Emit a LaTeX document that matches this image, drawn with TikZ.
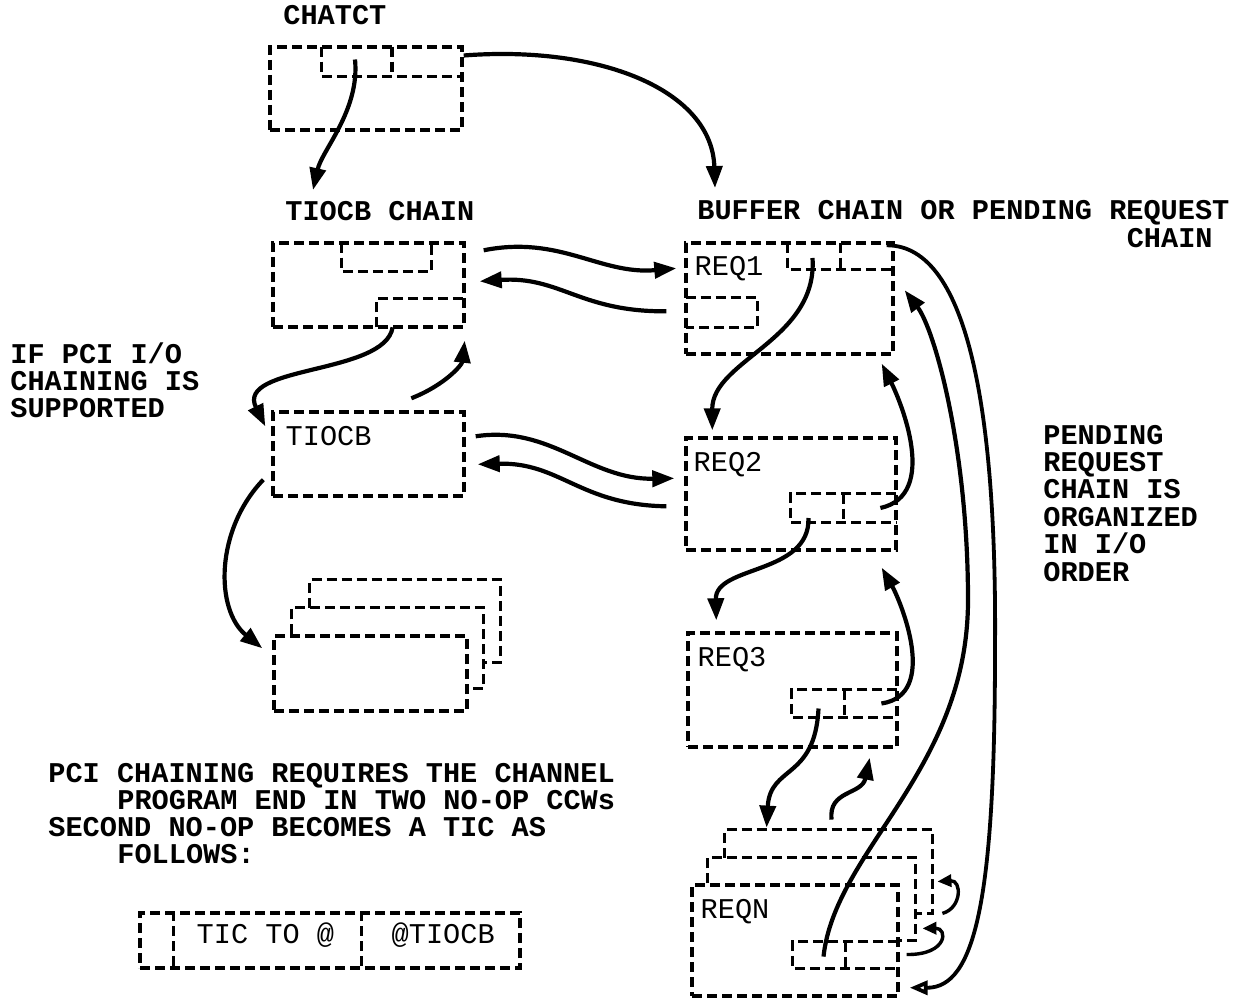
\documentclass[tikz,border=0pt]{standalone}
\usepackage{fontspec}
\setmonofont{Liberation Mono}
\usetikzlibrary{arrows.meta, fit}

\newcommand{\ibm}{\ttfamily\fontsize{14.3}{13.65}\selectfont}

\begin{document}
\begin{tikzpicture}[
    x=0.5pt, y=-0.5pt,
    every node/.style={font=\ibm, inner sep=0pt},
    heading/.style={font=\ibm\bfseries, anchor=base west},
    boxlbl/.style={anchor=base west},
    dbox/.style={draw, line width=1.7pt, dash pattern=on 5pt off 2.5pt},
    dline/.style={line width=1.7pt, dash pattern=on 5pt off 2.5pt},
    link/.style={-{Triangle[length=11pt, width=8pt]}, line width=2.1pt},
    smalllink/.style={-{Triangle[length=7pt, width=6pt]}, line width=1.7pt},
    hollow/.style={-{Triangle[open, length=9pt, width=7pt]}, line width=1.9pt}
]
\useasboundingbox (0,0) rectangle (1242,1000);

% headings
\node[heading] (chatctlbl) at (283,25) {CHATCT};
\node[heading] (chainlbl) at (285,221) {TIOCB CHAIN};
\node[heading] (bufflbl) at (697,220) {BUFFER CHAIN OR PENDING REQUEST};
\node[heading, anchor=base east] (bufflbl2) at (1213,248) {CHAIN};
\foreach \txt [count=\i from 0] in {IF PCI I/O, CHAINING IS, SUPPORTED}
  \node[heading] (pci\i) at (10,363+27.4*\i) {\txt};
\foreach \txt [count=\i from 0] in {PENDING, REQUEST, CHAIN IS, ORGANIZED, IN I/O, ORDER}
  \node[heading] (order\i) at (1043,444+27.4*\i) {\txt};
\foreach \dx/\txt [count=\i from 0] in {0/PCI CHAINING REQUIRES THE CHANNEL, 69/PROGRAM END IN TWO NO-OP CCWs, 0/SECOND NO-OP BECOMES A TIC AS, 69/FOLLOWS:}
  \node[heading] (note\i) at (48+\dx,782+27.3*\i) {\txt};

% CHATCT
\node[dbox, fit={(270,47) (462,130)}] (chatct) {};
\node[fit={(322,47) (462,76)}] (chatctf) {};
\draw[dline] (chatctf.north west) -- (chatctf.south west) -- (chatctf.south east);
\draw[dline] (chatctf.north) -- (chatctf.south);

% TIOCB chain
\node[dbox, fit={(273,243) (464,327)}] (chain) {};
\node[fit={(342,243) (431,271)}] (chainf1) {};
\draw[dline] (chainf1.north west) -- (chainf1.south west) -- (chainf1.south east) -- (chainf1.north east);
\node[fit={(377,299) (464,327)}] (chainf2) {};
\draw[dline] (chainf2.south west) -- (chainf2.north west) -- (chainf2.north east);

\node[dbox, fit={(273,412) (464,496)}] (tiocb) {};
\node[boxlbl] (tiocblbl) at ([shift={(14,35)}]tiocb.north west) {TIOCB};

% stacked TIOCBs
\node[dbox, fit={(274,636) (467,711)}] (stackA) {};
\node[fit={(292,608) (483,688)}] (stackB) {};
\node[fit={(310,580) (500,662)}] (stackC) {};
\draw[dline] (stackB.south west |- stackA.north) -- (stackB.north west) -- (stackB.north east) -- (stackB.south east) -- (stackA.east |- stackB.south);
\draw[dline] (stackC.south west |- stackB.north) -- (stackC.north west) -- (stackC.north east) -- (stackC.south east) -- (stackB.east |- stackC.south);

% request blocks
\node[dbox, fit={(686,243) (893,354)}] (req1) {};
\node[boxlbl] (req1lbl) at ([shift={(10,34)}]req1.north west) {REQ1};
\node[fit={(788,243) (893,269)}] (req1f) {};
\draw[dline] (req1f.north west) -- (req1f.south west) -- (req1f.south east);
\draw[dline] (req1f.north) -- (req1f.south);
\node[fit={(686,298) (757,327)}] (req1g) {};
\draw[dline] (req1g.north west) -- (req1g.north east) -- (req1g.south east) -- (req1g.south west);

\node[dbox, fit={(686,438) (896,550)}] (req2) {};
\node[boxlbl] (req2lbl) at ([shift={(9,35)}]req2.north west) {REQ2};
\node[fit={(791,494) (896,522)}] (req2f) {};
\draw[dline] (req2f.north east) -- (req2f.north west) -- (req2f.south west) -- (req2f.south east);
\draw[dline] (req2f.north) -- (req2f.south);

\node[dbox, fit={(688,633) (897,747)}] (req3) {};
\node[boxlbl] (req3lbl) at ([shift={(11,35)}]req3.north west) {REQ3};
\node[fit={(792,690) (897,717)}] (req3f) {};
\draw[dline] (req3f.north east) -- (req3f.north west) -- (req3f.south west) -- (req3f.south east);
\draw[dline] (req3f.north) -- (req3f.south);

% stacked REQN
\node[dbox, fit={(692,885) (898,996)}] (reqN) {};
\node[fit={(708,858) (915,940)}] (reqNb) {};
\node[fit={(725,830) (932,913)}] (reqNc) {};
\draw[dline] (reqNb.south west |- reqN.north) -- (reqNb.north west) -- (reqNb.north east) -- (reqNb.south east) -- (reqN.east |- reqNb.south);
\draw[dline] (reqNc.south west |- reqNb.north) -- (reqNc.north west) -- (reqNc.north east) -- (reqNc.south east) -- (reqNb.east |- reqNc.south);
\node[boxlbl] (reqNlbl) at ([shift={(10,35)}]reqN.north west) {REQN};
\node[fit={(793,942) (898,968)}] (reqNf) {};
\draw[dline] (reqNf.north east) -- (reqNf.north west) -- (reqNf.south west) -- (reqNf.south east);
\draw[dline] (reqNf.north) -- (reqNf.south);

% TIC ccw
\node[dbox, fit={(140,913) (520,968)}] (tic) {};
\draw[dline] ([shift={(35,0)}]tic.north west) -- ([shift={(35,0)}]tic.south west);
\draw[dline] ([shift={(223,0)}]tic.north west) -- ([shift={(223,0)}]tic.south west);
\node[boxlbl] (ticto) at ([shift={(58,32)}]tic.north west) {TIC TO @};
\node[boxlbl] (ticaddr) at ([shift={(253,32)}]tic.north west) {@TIOCB};

% pointers from CHATCT
\draw[link] ([shift={(-37,-2)}]chatctf.center) .. controls (360,110) and (322,150) .. ([shift={(28,-31)}]chainlbl.base west);
\draw[link] ([shift={(0,-33)}]chatct.east) .. controls (600,45) and (712,90) .. ([shift={(18,-32)}]bufflbl.base west);

% TIOCB <-> REQ
\draw[link] ([shift={(18,9)}]chain.north east) .. controls (560,235) and (600,275) .. ([shift={(-8,27)}]req1.north west);
\draw[link] ([shift={(-18,70)}]req1.north west) .. controls (580,312) and (560,276) .. ([shift={(14,40)}]chain.north east);
\draw[link] ([shift={(10,26)}]tiocb.north east) .. controls (550,425) and (590,480) .. ([shift={(-10,42)}]req2.north west);
\draw[link] ([shift={(-18,70)}]req2.north west) .. controls (580,505) and (560,462) .. ([shift={(12,54)}]tiocb.north east);

% TIOCB chain
\draw[link] ([shift={(16,0)}]chainf2.south west) .. controls (385,375) and (235,365) .. ([shift={(-6,16)}]tiocb.north west);
\draw[link] ([shift={(140,-12)}]tiocb.north west) .. controls (445,385) and (462,365) .. ([shift={(-1,12)}]chain.south east);
\draw[link] ([shift={(-8,-18)}]tiocb.south west) .. controls (215,530) and (215,610) .. ([shift={(-10,14)}]stackA.north west);

% request chain, forward
\draw[link] ([shift={(-28,2)}]req1f.center) .. controls (818,340) and (712,360) .. ([shift={(28,-6)}]req2.north west);
\draw[link] ([shift={(-35,10)}]req2f.center) .. controls (810,575) and (715,565) .. ([shift={(30,-11)}]req3.north west);
\draw[link] ([shift={(-26,5)}]req3f.center) .. controls (815,780) and (770,765) .. ([shift={(42,-2)}]reqNc.north west);

% request chain, backward
\draw[link] ([shift={(-16,0)}]req2f.east) .. controls (940,495) and (900,400) .. ([shift={(-13,8)}]req1.south east);
\draw[link] ([shift={(-16,0)}]req3f.east) .. controls (940,695) and (900,600) .. ([shift={(-16,16)}]req2.south east);
\draw[link] ([shift={(107,-10)}]reqNc.north west) .. controls (828,790) and (862,795) .. ([shift={(-29,9)}]req3.south east);
\draw[smalllink] ([shift={(10,0)}]reqNc.south east) .. controls (962,908) and (962,880) .. ([shift={(5,10)}]reqNc.east);
\draw[smalllink] ([shift={(7,14)}]reqN.east) .. controls (948,955) and (948,928) .. ([shift={(7,-12)}]reqNb.south east);

% long pointers
\draw[link] ([shift={(-22,15)}]reqNf.north) .. controls (835,850) and (968,770) .. (968,600) .. controls (968,450) and (935,330) .. ([shift={(10,49)}]req1.north east);
\draw[hollow] ([shift={(-8,4)}]req1.north east) .. controls (970,245) and (997,420) .. (995,650) .. controls (995,900) and (975,988) .. ([shift={(10,-10)}]reqN.south east);

\end{tikzpicture}
\end{document}
